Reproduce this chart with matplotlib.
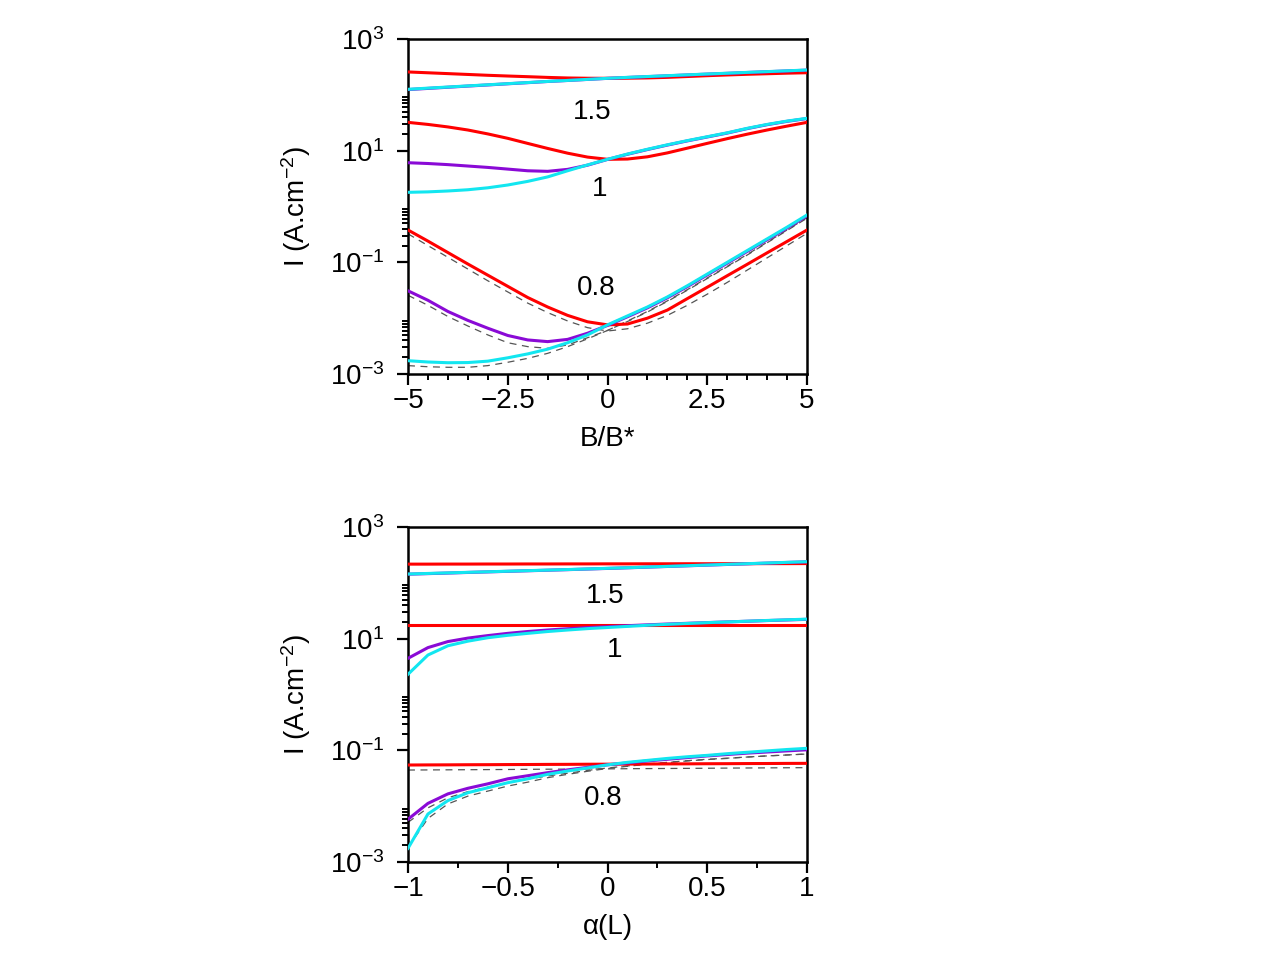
import numpy as np
import matplotlib
matplotlib.use("Agg")
import matplotlib.pyplot as plt
from matplotlib.ticker import FixedLocator, NullFormatter

plt.rcParams['font.family'] = ['Liberation Sans', 'DejaVu Sans']
plt.rcParams['mathtext.fontset'] = 'custom'
plt.rcParams['mathtext.rm'] = 'Liberation Sans'
plt.rcParams['mathtext.it'] = 'Liberation Sans:italic'
plt.rcParams['lines.scale_dashes'] = False

# ---------------- top panel data: B/B*  (values stored as log10 of I) ----------------
b_ratio = [-5, -4.5, -4, -3.5, -3, -2.5, -2, -1.5, -1, -0.5, 0,
           0.5, 1, 1.5, 2, 2.5, 3, 3.5, 4, 4.5, 5]

top_red_15 = [2.41, 2.395, 2.38, 2.365, 2.35, 2.337, 2.325, 2.312, 2.302, 2.297, 2.296,
              2.298, 2.303, 2.313, 2.328, 2.343, 2.356, 2.368, 2.378, 2.388, 2.396]
top_cyan_15 = [2.099, 2.12, 2.14, 2.16, 2.18, 2.2, 2.22, 2.24, 2.258, 2.277, 2.296,
               2.313, 2.328, 2.343, 2.358, 2.373, 2.387, 2.402, 2.416, 2.43, 2.445]
top_purple_15 = [2.094, 2.115, 2.136, 2.157, 2.177, 2.198, 2.218, 2.239, 2.257, 2.276, 2.295,
                 2.311, 2.326, 2.341, 2.356, 2.371, 2.385, 2.4, 2.414, 2.428, 2.442]

top_red_1 = [1.507, 1.47, 1.425, 1.37, 1.30, 1.221, 1.13, 1.04, 0.955, 0.885, 0.845,
             0.85, 0.89, 0.96, 1.045, 1.131, 1.215, 1.295, 1.37, 1.44, 1.507]
top_purple_1 = [0.784, 0.77, 0.75, 0.725, 0.70, 0.67, 0.64, 0.63, 0.665, 0.74, 0.843,
                0.935, 1.02, 1.10, 1.175, 1.245, 1.315, 1.395, 1.465, 1.525, 1.575]
top_cyan_1 = [0.254, 0.262, 0.278, 0.30, 0.335, 0.385, 0.45, 0.53, 0.64, 0.745, 0.845,
              0.94, 1.025, 1.105, 1.18, 1.25, 1.32, 1.40, 1.47, 1.53, 1.58]

top_red_08 = [-0.421, -0.62, -0.825, -1.03, -1.23, -1.43, -1.63, -1.80, -1.95, -2.065, -2.12,
              -2.105, -2.0, -1.855, -1.65, -1.446, -1.24, -1.036, -0.83, -0.626, -0.421]
top_purple_08 = [-1.51, -1.68, -1.88, -2.04, -2.18, -2.31, -2.39, -2.42, -2.38, -2.27, -2.13,
                 -1.975, -1.815, -1.635, -1.435, -1.225, -1.015, -0.805, -0.595, -0.385, -0.167]
top_cyan_08 = [-2.762, -2.785, -2.798, -2.795, -2.77, -2.71, -2.64, -2.555, -2.44, -2.30, -2.12,
               -1.96, -1.80, -1.62, -1.42, -1.21, -1.0, -0.79, -0.58, -0.37, -0.152]
top_dash_red_08 = [-0.49, -0.70, -0.91, -1.12, -1.33, -1.53, -1.73, -1.90, -2.05, -2.17, -2.23,
                   -2.19, -2.09, -1.95, -1.77, -1.57, -1.36, -1.14, -0.92, -0.70, -0.48]
top_dash_purple_08 = [-1.59, -1.77, -1.97, -2.14, -2.30, -2.44, -2.51, -2.54, -2.48, -2.35, -2.22,
                      -2.05, -1.88, -1.69, -1.49, -1.28, -1.07, -0.86, -0.64, -0.42, -0.20]
top_dash_cyan_08 = [-2.85, -2.87, -2.88, -2.88, -2.85, -2.79, -2.72, -2.63, -2.51, -2.37, -2.22,
                    -2.06, -1.89, -1.70, -1.50, -1.29, -1.08, -0.87, -0.65, -0.43, -0.21]

# ---------------- bottom panel data: alpha(L)  (log10 of I) ----------------
alpha_L = [-1, -0.9, -0.8, -0.7, -0.6, -0.5, -0.4, -0.3, -0.2, -0.1, 0,
           0.1, 0.2, 0.3, 0.4, 0.5, 0.6, 0.7, 0.8, 0.9, 1]

bot_red_15 = [2.335, 2.335, 2.336, 2.336, 2.337, 2.337, 2.338, 2.338, 2.339, 2.339, 2.34,
              2.34, 2.341, 2.341, 2.342, 2.342, 2.343, 2.343, 2.344, 2.344, 2.345]
bot_cyan_15 = [2.158, 2.168, 2.178, 2.188, 2.198, 2.208, 2.218, 2.228, 2.238, 2.249, 2.26,
               2.271, 2.283, 2.295, 2.307, 2.319, 2.331, 2.343, 2.355, 2.367, 2.378]
bot_purple_15 = [2.155, 2.165, 2.175, 2.186, 2.196, 2.206, 2.216, 2.226, 2.236, 2.247, 2.258,
                 2.269, 2.281, 2.293, 2.305, 2.317, 2.329, 2.341, 2.353, 2.365, 2.376]

bot_red_1 = [1.245] * 21
bot_purple_1 = [0.648, 0.84, 0.948, 1.01, 1.055, 1.095, 1.128, 1.155, 1.178, 1.198, 1.215,
                1.232, 1.248, 1.262, 1.275, 1.288, 1.30, 1.312, 1.324, 1.335, 1.346]
bot_cyan_1 = [0.362, 0.707, 0.873, 0.955, 1.017, 1.06, 1.095, 1.128, 1.155, 1.18, 1.20,
              1.22, 1.24, 1.257, 1.272, 1.287, 1.30, 1.313, 1.326, 1.338, 1.35]

bot_red_08 = [-1.263, -1.261, -1.26, -1.258, -1.257, -1.255, -1.254, -1.252, -1.251, -1.249, -1.248,
              -1.246, -1.245, -1.243, -1.242, -1.24, -1.239, -1.237, -1.236, -1.234, -1.233]
bot_purple_08 = [-2.235, -1.95, -1.78, -1.68, -1.60, -1.51, -1.455, -1.40, -1.35, -1.305, -1.26,
                 -1.225, -1.19, -1.16, -1.13, -1.10, -1.075, -1.05, -1.03, -1.01, -0.99]
bot_cyan_08 = [-2.755, -2.14, -1.90, -1.76, -1.67, -1.58, -1.51, -1.43, -1.37, -1.315, -1.26,
               -1.215, -1.18, -1.145, -1.115, -1.09, -1.06, -1.035, -1.01, -0.985, -0.964]
bot_dash_red_08 = [-1.353, -1.351, -1.349, -1.347, -1.345, -1.343, -1.34, -1.338, -1.336, -1.334, -1.332,
                   -1.329, -1.327, -1.325, -1.323, -1.321, -1.318, -1.316, -1.314, -1.312, -1.31]
bot_dash_purple_08 = [-2.29, -2.03, -1.85, -1.74, -1.66, -1.58, -1.515, -1.46, -1.41, -1.36, -1.315,
                      -1.28, -1.245, -1.215, -1.185, -1.16, -1.14, -1.12, -1.10, -1.083, -1.066]
bot_dash_cyan_08 = [-2.74, -2.22, -1.96, -1.82, -1.73, -1.64, -1.57, -1.49, -1.43, -1.375, -1.325,
                    -1.285, -1.25, -1.22, -1.19, -1.165, -1.145, -1.12, -1.10, -1.083, -1.066]

group_labels = ["1.5", "1", "0.8"]
top_label_xy = [(-0.39, 49.0), (-0.19, 2.06), (-0.29, 0.0347)]
bot_label_xy = [(-0.01, 58.0), (0.035, 6.3), (-0.02, 0.014)]

RED = '#ff0000'
PURPLE = '#8a0ad6'
CYAN = '#12e6f0'
DASH = '#555555'
LW = 2.2
FS = 20

fig = plt.figure(figsize=(12.64, 9.77), dpi=100)
ax_top = fig.add_axes([408 / 1264, 1 - 374 / 977, 399 / 1264, 335 / 977])
ax_bot = fig.add_axes([408 / 1264, 1 - 862 / 977, 399 / 1264, 335 / 977])


def I(v):
    return np.power(10.0, np.asarray(v, dtype=float))


def draw(ax, x, dashed, groups, labels_xy):
    for d in dashed:
        ax.plot(x, I(d), color=DASH, lw=0.9, dashes=(5, 4), zorder=2)
    for red, purple, cyan in groups:
        ax.plot(x, I(red), color=RED, lw=LW, zorder=3)
        ax.plot(x, I(purple), color=PURPLE, lw=LW, zorder=4)
        ax.plot(x, I(cyan), color=CYAN, lw=LW, zorder=5)
    for lab, (lx, ly) in zip(group_labels, labels_xy):
        ax.text(lx, ly, lab, fontsize=FS, ha='center', va='center', zorder=6)


draw(ax_top, b_ratio,
     [top_dash_red_08, top_dash_purple_08, top_dash_cyan_08],
     [(top_red_15, top_purple_15, top_cyan_15),
      (top_red_1, top_purple_1, top_cyan_1),
      (top_red_08, top_purple_08, top_cyan_08)],
     top_label_xy)
draw(ax_bot, alpha_L,
     [bot_dash_red_08, bot_dash_purple_08, bot_dash_cyan_08],
     [(bot_red_15, bot_purple_15, bot_cyan_15),
      (bot_red_1, bot_purple_1, bot_cyan_1),
      (bot_red_08, bot_purple_08, bot_cyan_08)],
     bot_label_xy)

ymajor = [1e-3, 1e-1, 1e1, 1e3]
ymajor_labels = [r'$10^{-3}$', r'$10^{-1}$', r'$10^{1}$', r'$10^{3}$']
yminor = [j * 10.0 ** k for k in (-3, -1, 1) for j in range(2, 10)]

for ax, xmaj, xmaj_lab, xmin, xlim, xlabel in [
        (ax_top, [-5, -2.5, 0, 2.5, 5], ['\u22125', '\u22122.5', '0', '2.5', '5'],
         np.arange(-5, 5.01, 0.5), (-5, 5), 'B/B*'),
        (ax_bot, [-1, -0.5, 0, 0.5, 1], ['\u22121', '\u22120.5', '0', '0.5', '1'],
         np.arange(-1, 1.001, 0.25), (-1, 1), '\u03b1(L)')]:
    ax.set_yscale('log')
    ax.set_ylim(1e-3, 1e3)
    ax.set_xlim(*xlim)
    ax.yaxis.set_major_locator(FixedLocator(ymajor))
    ax.set_yticklabels(ymajor_labels)
    ax.yaxis.set_minor_locator(FixedLocator(yminor))
    ax.yaxis.set_minor_formatter(NullFormatter())
    ax.set_xticks(xmaj)
    ax.set_xticklabels(xmaj_lab)
    ax.set_xticks(xmin, minor=True)
    ax.tick_params(which='major', direction='out', length=8, width=1.6,
                   labelsize=FS, top=False, right=False)
    ax.tick_params(which='minor', direction='out', length=4.5, width=1.4,
                   top=False, right=False)
    ax.tick_params(axis='y', which='major', pad=9)
    ax.tick_params(axis='x', which='major', pad=2)
    for sp in ax.spines.values():
        sp.set_linewidth(1.8)
    ax.set_xlabel(xlabel, fontsize=FS)
    ax.set_ylabel(r'I (A.cm$^{-2}$)', fontsize=FS)
    ax.xaxis.set_label_coords(0.5, -0.155)
    ax.yaxis.set_label_coords(-0.238, 0.5)

fig.savefig('out.png', dpi=100)
